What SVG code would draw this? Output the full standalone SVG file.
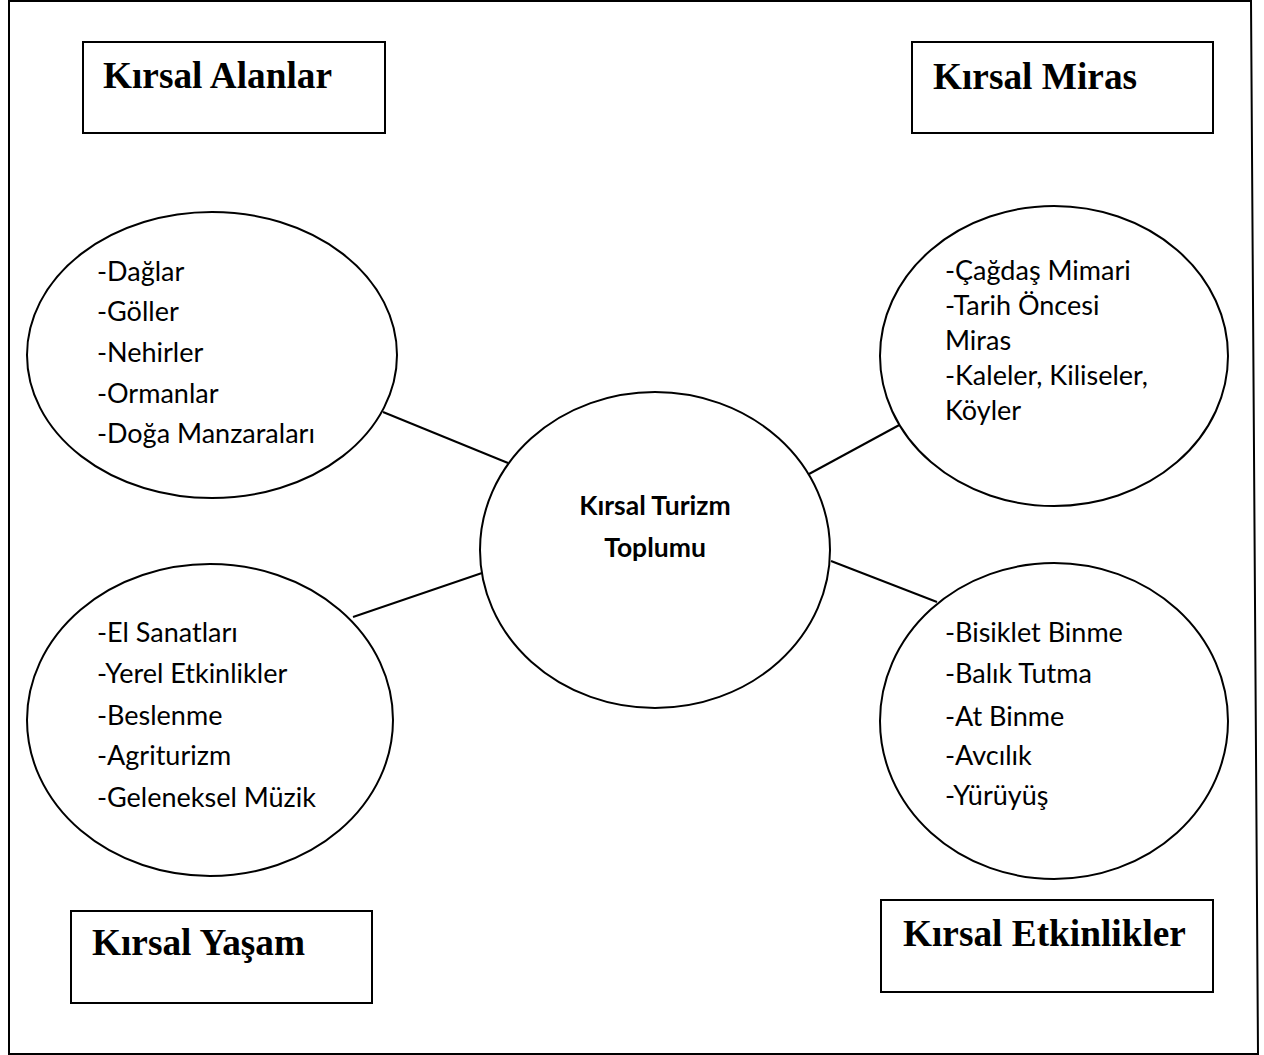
<svg xmlns="http://www.w3.org/2000/svg" width="1264" height="1055" viewBox="0 0 1264 1055">
<style>
.frame{fill:none;stroke:#000;stroke-width:2}
.box{fill:#fff;stroke:#000;stroke-width:2}
.oval{fill:#fff;stroke:#000;stroke-width:2}
.conn{stroke:#000;stroke-width:2;fill:none}
.hdr{font-family:"Liberation Serif","Times New Roman",serif;font-weight:bold;font-size:37.3px;fill:#000}
.lst{font-family:Lato,"Noto Sans",sans-serif;font-size:27px;fill:#000}
.ctr{font-family:Lato,"Noto Sans",sans-serif;font-weight:bold;font-size:26.5px;fill:#000}
</style>
<rect width="1264" height="1055" fill="#fff"/>
<polygon class="frame" points="9,1 1251,1 1258,1054 9,1054"/>
<g id="connectors">
<line class="conn" x1="383" y1="412" x2="508" y2="463"/>
<line class="conn" x1="353" y1="617" x2="482" y2="573"/>
<line class="conn" x1="809" y1="474" x2="903" y2="423"/>
<line class="conn" x1="831" y1="561" x2="937" y2="602"/>
</g>
<g id="box-alanlar">
<rect class="box" x="83" y="42" width="302" height="91"/>
<text class="hdr" x="103" y="88">Kırsal Alanlar</text>
</g>
<g id="box-miras">
<rect class="box" x="912" y="42" width="301" height="91"/>
<text class="hdr" x="933" y="89">Kırsal Miras</text>
</g>
<g id="box-yasam">
<rect class="box" x="71" y="911" width="301" height="92"/>
<text class="hdr" x="92" y="955">Kırsal Yaşam</text>
</g>
<g id="box-etkinlikler">
<rect class="box" x="881" y="900" width="332" height="92"/>
<text class="hdr" x="903" y="946">Kırsal Etkinlikler</text>
</g>
<g id="oval-alanlar">
<ellipse class="oval" cx="212" cy="355" rx="185" ry="143"/>
<text class="lst" x="97" y="281">-Dağlar</text>
<text class="lst" x="97" y="321">-Göller</text>
<text class="lst" x="97" y="362">-Nehirler</text>
<text class="lst" x="97" y="403">-Ormanlar</text>
<text class="lst" x="97" y="443">-Doğa Manzaraları</text>
</g>
<g id="oval-miras">
<ellipse class="oval" cx="1054" cy="356" rx="174" ry="150"/>
<text class="lst" x="945" y="280">-Çağdaş Mimari</text>
<text class="lst" x="945" y="315">-Tarih Öncesi</text>
<text class="lst" x="945" y="350">Miras</text>
<text class="lst" x="945" y="385">-Kaleler, Kiliseler,</text>
<text class="lst" x="945" y="420">Köyler</text>
</g>
<g id="oval-merkez">
<ellipse class="oval" cx="655" cy="550" rx="175" ry="158"/>
<text class="ctr" x="655" y="515" text-anchor="middle">Kırsal Turizm</text>
<text class="ctr" x="655" y="557" text-anchor="middle">Toplumu</text>
</g>
<g id="oval-yasam">
<ellipse class="oval" cx="210" cy="720" rx="183" ry="156"/>
<text class="lst" x="97" y="642">-El Sanatları</text>
<text class="lst" x="97" y="683">-Yerel Etkinlikler</text>
<text class="lst" x="97" y="725">-Beslenme</text>
<text class="lst" x="97" y="765">-Agriturizm</text>
<text class="lst" x="97" y="807">-Geleneksel Müzik</text>
</g>
<g id="oval-etkinlikler">
<ellipse class="oval" cx="1054" cy="721" rx="174" ry="158"/>
<text class="lst" x="945" y="642">-Bisiklet Binme</text>
<text class="lst" x="945" y="683">-Balık Tutma</text>
<text class="lst" x="945" y="726">-At Binme</text>
<text class="lst" x="945" y="765">-Avcılık</text>
<text class="lst" x="945" y="805">-Yürüyüş</text>
</g>
</svg>
